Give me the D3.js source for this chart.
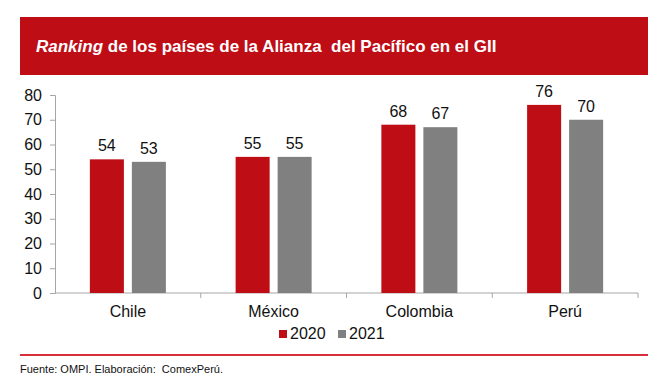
<!DOCTYPE html>
<html>
<head>
<meta charset="utf-8">
<script src="https://cdn.jsdelivr.net/npm/d3@7"></script>
<style>
  body { margin: 0; background: #fff; }
  text { font-family: "Liberation Sans", Arial, sans-serif; white-space: pre; }
</style>
</head>
<body>
<div id="chart"></div>
<script>
const width = 671;
const height = 387;
const margin = ({top: 95, right: 33, bottom: 94, left: 55})

const countries = ["Chile", "México", "Colombia", "Perú"];
const years = ["2020", "2021"];
const values2020 = [54, 55, 68, 76];
const values2021 = [53, 55, 67, 70];
const yTicks = [0, 10, 20, 30, 40, 50, 60, 70, 80];

const colours = {"2020": "#bf0d16", "2021": "#808080"};

const data = countries.map((c, i) => ({country: c, values: [
    {year: "2020", value: values2020[i]},
    {year: "2021", value: values2021[i]}
]}));

const svg = d3.select("#chart")
    .append("svg")
    .attr("width", width)
    .attr("height", height);

// title band
svg.append("rect")
    .attr("x", 20).attr("y", 17)
    .attr("width", 628).attr("height", 58)
    .attr("fill", "#bf0d16");
const title = svg.append("text")
    .attr("x", 36).attr("y", 52)
    .attr("fill", "#fff")
    .attr("font-size", "17px")
    .attr("font-weight", "bold");
title.append("tspan").attr("font-style", "italic").text("Ranking");
title.append("tspan").text(" de los países de la Alianza  del Pacífico en el GII");

const x = d3.scaleBand()
    .domain(countries)
    .range([margin.left, width - margin.right]);

// two bars of ~34px with an 8px gap, centred in each band
const x1 = d3.scaleBand()
    .domain(years)
    .range([0, x.bandwidth()])
    .paddingInner(0.19)
    .paddingOuter(0.83);

const y = d3.scaleLinear()
    .domain([0, 80])
    .range([height - margin.bottom, margin.top]);

// y axis
const yAxis = svg.append("g")
    .attr("transform", `translate(${margin.left},0)`)
    .call(d3.axisLeft(y).tickValues(yTicks).tickSize(5).tickPadding(8));
yAxis.selectAll("text").attr("font-size", "16px").attr("fill", "#111").attr("font-family", "Liberation Sans, Arial, sans-serif");
yAxis.selectAll("line, path").attr("stroke", "#a6a6a6");

// x axis with ticks at band edges
const xAxis = svg.append("g")
    .attr("transform", `translate(0,${height - margin.bottom})`);
xAxis.append("line")
    .attr("x1", margin.left).attr("x2", width - margin.right)
    .attr("stroke", "#a6a6a6");
xAxis.selectAll(".edge")
    .data(countries.slice(1).map(c => x(c)).concat([width - margin.right]))
    .join("line")
    .attr("x1", d => d).attr("x2", d => d)
    .attr("y1", 0).attr("y2", 5)
    .attr("stroke", "#a6a6a6");
xAxis.selectAll(".lab")
    .data(countries)
    .join("text")
    .attr("x", d => x(d) + x.bandwidth() / 2)
    .attr("y", 24)
    .attr("text-anchor", "middle")
    .attr("font-size", "16px")
    .attr("fill", "#111")
    .text(d => d);

// bars
const groups = svg.selectAll(".grp")
    .data(data)
    .join("g")
    .attr("transform", d => `translate(${x(d.country)},0)`);
groups.selectAll("rect")
    .data(d => d.values)
    .join("rect")
    .attr("x", d => x1(d.year))
    .attr("width", x1.bandwidth())
    .attr("y", d => y(d.value))
    .attr("height", d => y(0) - y(d.value))
    .attr("fill", d => colours[d.year]);
groups.selectAll("text")
    .data(d => d.values)
    .join("text")
    .attr("x", d => x1(d.year) + x1.bandwidth() / 2)
    .attr("y", d => y(d.value) - 8)
    .attr("text-anchor", "middle")
    .attr("font-size", "16px")
    .attr("fill", "#111")
    .text(d => d.value);

// legend
const legend = svg.append("g").attr("transform", "translate(279,326)");
const legendX = [0, 59];
years.forEach((yr, i) => {
    legend.append("rect")
        .attr("x", legendX[i]).attr("y", 4)
        .attr("width", 8).attr("height", 8)
        .attr("fill", colours[yr]);
    legend.append("text")
        .attr("x", legendX[i] + 11).attr("y", 13)
        .attr("font-size", "16px")
        .attr("fill", "#111")
        .text(yr);
});

// footer
svg.append("line")
    .attr("x1", 20).attr("x2", 648)
    .attr("y1", 355).attr("y2", 355)
    .attr("stroke", "#d8303a")
    .attr("stroke-width", 2);
svg.append("text")
    .attr("x", 20).attr("y", 373)
    .attr("font-size", "11px")
    .attr("fill", "#111")
    .text("Fuente: OMPI. Elaboración:  ComexPerú.");
</script>
</body>
</html>
